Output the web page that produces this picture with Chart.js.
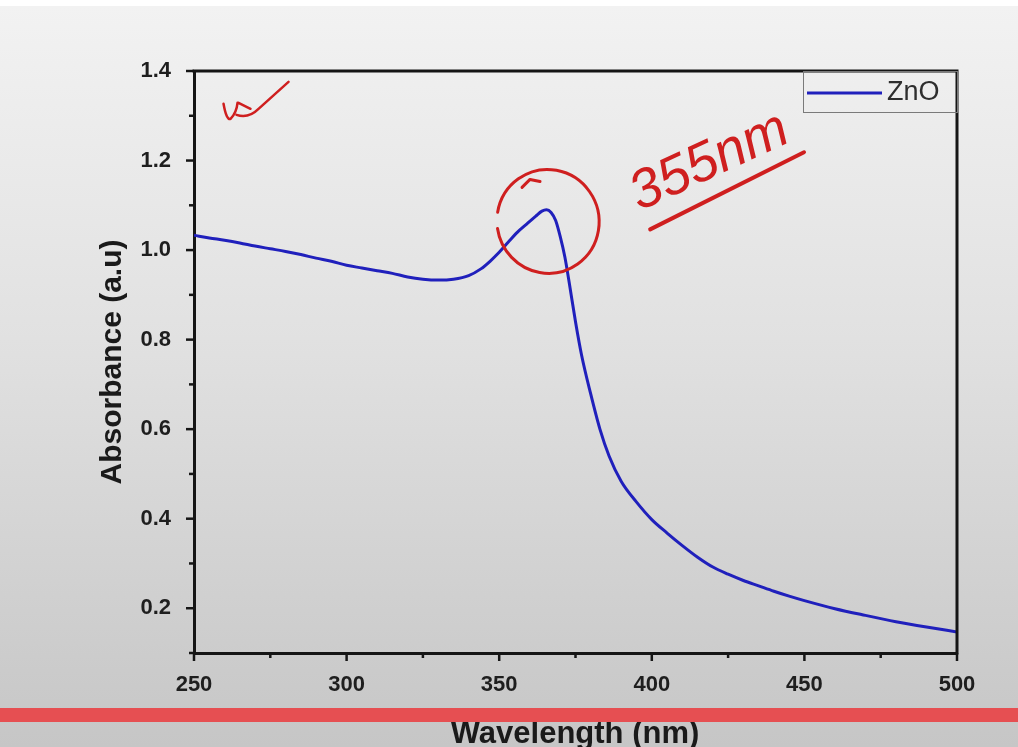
<!DOCTYPE html>
<html>
<head>
<meta charset="utf-8">
<script src="https://cdn.jsdelivr.net/npm/chart.js@4.4.1/dist/chart.umd.min.js"></script>
<style>
  html, body { margin: 0; padding: 0; background: #fff; }
  #wrap { width: 1018px; height: 747px; }
</style>
</head>
<body>
<div id="wrap"><canvas id="c" width="1018" height="747"></canvas></div>
<script>
// ---- data ----
const wavelengths = [250,255,260,265,270,275,280,285,290,295,300,305,310,315,320,325,330,335,340,344,347,350,353,356,359,362,364,365.5,367,368.5,370,371.5,373,375,377,380,383,386,390,395,400,405,410,415,420,425,430,435,440,445,450,460,470,480,490,500];
const absorbance  = [1.033,1.027,1.022,1.016,1.009,1.003,0.997,0.990,0.982,0.975,0.966,0.960,0.954,0.948,0.940,0.935,0.933,0.935,0.943,0.958,0.975,0.995,1.018,1.040,1.058,1.076,1.087,1.090,1.084,1.066,1.030,0.985,0.925,0.840,0.765,0.678,0.600,0.540,0.483,0.437,0.398,0.368,0.340,0.314,0.292,0.276,0.262,0.250,0.238,0.227,0.217,0.199,0.184,0.170,0.158,0.147];
const seriesLabel = 'ZnO';
const xTitle = 'Wavelength (nm)';
const yTitle = 'Absorbance (a.u)';
const annotationText = '355nm';

const FONT = "'Liberation Sans', Arial, sans-serif";
const AXIS = '#151515';

const bgPlugin = {
  id: 'bg',
  beforeDraw(chart) {
    const { ctx, width, height } = chart;
    ctx.save();
    ctx.fillStyle = '#ffffff';
    ctx.fillRect(0, 0, width, height);
    const g = ctx.createLinearGradient(0, 6, 0, height);
    g.addColorStop(0, '#f2f2f2');
    g.addColorStop(0.45, '#e1e1e1');
    g.addColorStop(1, '#c6c6c6');
    ctx.fillStyle = g;
    ctx.fillRect(0, 6, width, height - 6);
    ctx.restore();
  }
};

const decoPlugin = {
  id: 'deco',
  afterDraw(chart) {
    const { ctx, chartArea: ca, scales } = chart;
    const xs = scales.x, ys = scales.y;
    ctx.save();
    // box (top + right)
    ctx.strokeStyle = AXIS;
    ctx.lineWidth = 3;
    ctx.beginPath();
    ctx.moveTo(ca.left - 1.5, ca.top);
    ctx.lineTo(ca.right, ca.top);
    ctx.lineTo(ca.right, ca.bottom + 1.5);
    ctx.stroke();

    // ticks from scale ticks
    ctx.lineWidth = 2.5;
    xs.ticks.forEach(t => {
      const px = xs.getPixelForValue(t.value);
      const major = Math.round(t.value) % 50 === 0;
      ctx.beginPath();
      ctx.moveTo(px, ca.bottom);
      ctx.lineTo(px, ca.bottom + (major ? 8 : 5));
      ctx.stroke();
    });
    ys.ticks.forEach(t => {
      const py = ys.getPixelForValue(t.value);
      const major = Math.round(t.value * 10) % 2 === 0;
      ctx.beginPath();
      ctx.moveTo(ca.left, py);
      ctx.lineTo(ca.left - (major ? 8 : 5), py);
      ctx.stroke();
    });

    // axis titles
    ctx.fillStyle = '#1a1a1a';
    ctx.font = 'bold 30px ' + FONT;
    ctx.textAlign = 'center';
    ctx.textBaseline = 'middle';
    ctx.save();
    ctx.translate(113, (ca.top + ca.bottom) / 2);
    ctx.rotate(-Math.PI / 2);
    ctx.fillText(yTitle, 0, 0);
    ctx.restore();
    ctx.font = 'bold 31px ' + FONT;
    ctx.textBaseline = 'alphabetic';
    ctx.fillText(xTitle, 575, 743);

    // red bar across the page
    ctx.fillStyle = '#e64f52';
    ctx.fillRect(0, 708, chart.width, 14);

    // legend
    const ds = chart.data.datasets[0];
    const lw = 154, lh = 41;
    const lx = ca.right - lw, ly = ca.top;
    ctx.strokeStyle = '#7a7a7a';
    ctx.lineWidth = 1;
    ctx.strokeRect(lx + 0.5, ly + 0.5, lw, lh);
    ctx.strokeStyle = ds.borderColor;
    ctx.lineWidth = 3;
    ctx.beginPath();
    ctx.moveTo(lx + 4, ly + 22);
    ctx.lineTo(lx + 79, ly + 22);
    ctx.stroke();
    ctx.fillStyle = '#2e2e2e';
    ctx.font = '27px ' + FONT;
    ctx.textAlign = 'left';
    ctx.textBaseline = 'middle';
    ctx.fillText(ds.label, lx + 84, ly + 22);

    // handwritten annotations (red)
    const red = '#cf1f1f';
    ctx.strokeStyle = red;
    ctx.lineCap = 'round';
    ctx.lineJoin = 'round';
    // circle around the peak
    const cx = xs.getPixelForValue(366), cy = ys.getPixelForValue(1.064);
    ctx.lineWidth = 3;
    ctx.beginPath();
    ctx.ellipse(cx, cy, 51, 52, -0.3, Math.PI * 1.15, Math.PI * 3.05);
    ctx.stroke();
    ctx.beginPath();
    ctx.moveTo(cx - 26, cy - 34);
    ctx.lineTo(cx - 18, cy - 42);
    ctx.lineTo(cx - 8, cy - 40);
    ctx.stroke();

    // "355nm" text
    const tx = xs.getPixelForValue(396), ty = ys.getPixelForValue(1.087);
    ctx.save();
    ctx.translate(tx, ty);
    ctx.rotate(-0.43);
    ctx.fillStyle = red;
    ctx.font = 'italic 55px ' + FONT;
    ctx.textAlign = 'left';
    ctx.textBaseline = 'alphabetic';
    ctx.fillText(annotationText, 0, 0);
    ctx.lineWidth = 4;
    ctx.beginPath();
    ctx.moveTo(2, 21);
    ctx.lineTo(174, 15);
    ctx.stroke();
    ctx.restore();

    // "vt" tick scribble
    const vx = xs.getPixelForValue(260), vy = ys.getPixelForValue(1.32);
    ctx.lineWidth = 2.5;
    ctx.beginPath();
    ctx.moveTo(vx - 1, vy - 3);
    ctx.quadraticCurveTo(vx + 2, vy + 14, vx + 6, vy + 12);
    ctx.quadraticCurveTo(vx + 12, vy + 6, vx + 13, vy - 4);
    ctx.moveTo(vx + 12, vy + 8);
    ctx.quadraticCurveTo(vx + 24, vy + 12, vx + 34, vy + 2);
    ctx.lineTo(vx + 64, vy - 25);
    ctx.moveTo(vx + 14, vy - 4);
    ctx.lineTo(vx + 26, vy + 2);
    ctx.stroke();
    ctx.restore();
  }
};

const points = wavelengths.map((w, i) => ({ x: w, y: absorbance[i] }));

new Chart(document.getElementById('c'), {
  type: 'line',
  data: {
    datasets: [{
      label: seriesLabel,
      data: points,
      borderColor: '#2020bc',
      borderWidth: 3,
      pointRadius: 0,
      tension: 0,
      cubicInterpolationMode: 'monotone',
      fill: false
    }]
  },
  options: {
    responsive: false,
    animation: false,
    devicePixelRatio: 1,
    layout: { padding: { left: 0, top: 71, right: 61, bottom: 0 } },
    plugins: { legend: { display: false }, tooltip: { enabled: false } },
    scales: {
      x: {
        type: 'linear',
        min: 250, max: 500,
        afterFit: s => { s.height = 94; },
        grid: { display: false },
        border: { display: true, color: AXIS, width: 3 },
        ticks: {
          stepSize: 25,
          autoSkip: false,
          maxRotation: 0,
          padding: 11,
          color: '#1e1e1e',
          font: { family: FONT, size: 22, weight: 'bold' },
          callback: v => (Math.round(v) % 50 === 0 ? String(v) : '')
        },
        title: { display: false }
      },
      y: {
        type: 'linear',
        min: 0.1, max: 1.4,
        afterFit: s => { s.width = 194; },
        grid: { display: false },
        border: { display: true, color: AXIS, width: 3 },
        ticks: {
          stepSize: 0.1,
          autoSkip: false,
          padding: 15,
          color: '#1e1e1e',
          font: { family: FONT, size: 22, weight: 'bold' },
          callback: v => (Math.round(v * 10) % 2 === 0 ? v.toFixed(1) : '')
        },
        title: { display: false }
      }
    }
  },
  plugins: [bgPlugin, decoPlugin]
});
</script>
</body>
</html>
